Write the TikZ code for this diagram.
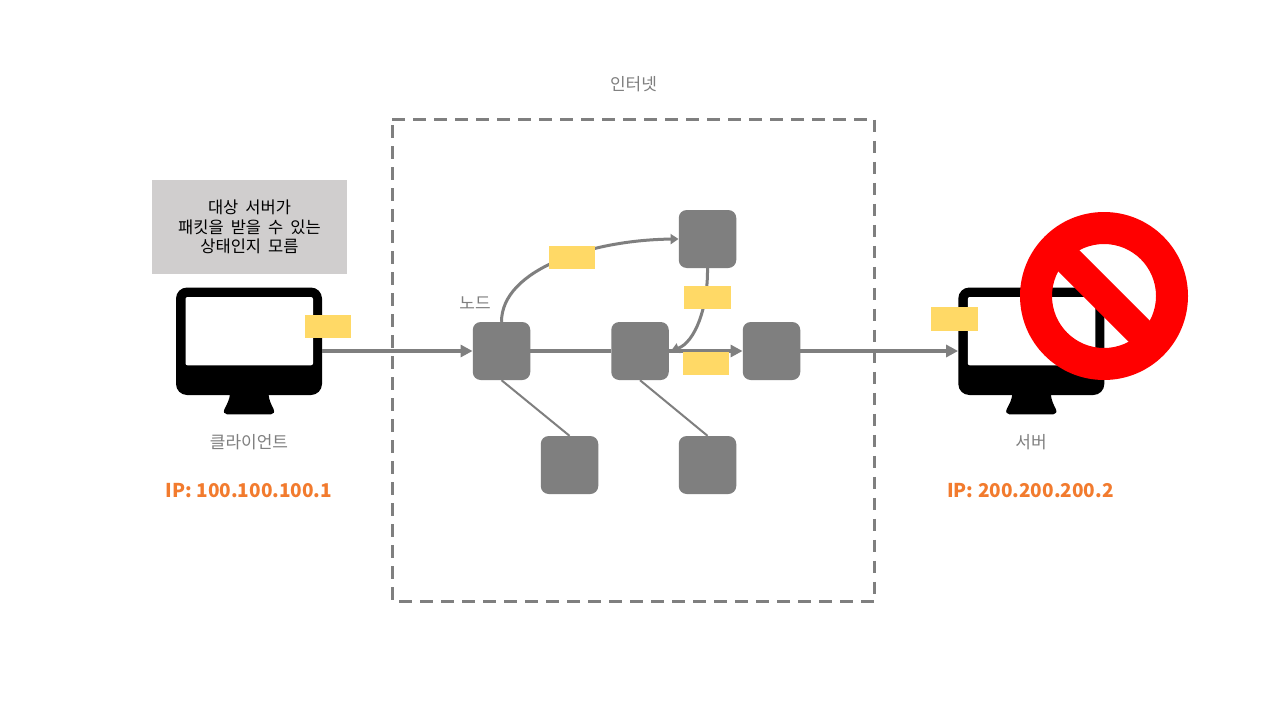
\documentclass[tikz,border=0pt]{standalone}
\usepackage{fontspec}
\setmainfont{Noto Sans CJK KR}
\newfontfamily\notefont[WordSpace=1.9]{Noto Sans CJK KR}
\usetikzlibrary{arrows.meta,calc}
\definecolor{nodegray}{HTML}{7F7F7F}
\definecolor{packet}{HTML}{FFD966}
\definecolor{notebox}{HTML}{D0CECE}
\definecolor{iporange}{HTML}{F27B2E}
\tikzset{
  x=1pt,y=-1pt,
  netnode/.style={fill=nodegray,rounded corners=8pt,minimum width=57.5pt,minimum height=58pt,inner sep=0pt},
  pkt/.style={fill=packet,minimum width=46.5pt,minimum height=23pt,inner sep=0pt},
  lbl/.style={text=nodegray,font=\fontsize{17}{20}\selectfont,inner sep=0pt},
  iplbl/.style={text=iporange,font=\fontsize{19}{23}\selectfont\bfseries,inner sep=0pt},
  link/.style={draw=nodegray,line width=3.7pt},
  curvelink/.style={draw=nodegray,line width=3pt},
  thinlink/.style={draw=nodegray,line width=2pt},
  tip/.style={-{Triangle[length=12pt,width=12pt]}},
  smalltip/.style={-{Triangle[length=8pt,width=10pt]}},
  screenbox/.style={minimum width=146pt,minimum height=107.5pt,inner sep=0pt}
}
\newcommand{\monitorshape}[2]{%
  \begin{scope}[shift={(#1,#2)}]
    \fill[black,rounded corners=11pt] (176,287.5) rectangle (322,395);
    \fill[white,rounded corners=2pt] (185.5,297) rectangle (313,365.3);
    \fill[black] (230,390) -- (268.5,390) -- (268.5,394) .. controls (269,400) and (271,404) .. (273.5,409) .. controls (275,412) and (273.5,414.3) .. (271,414.3) -- (227,414.3) .. controls (224.5,414.3) and (223,412) .. (224.5,409) .. controls (227,404) and (229.5,400) .. (230,394) -- cycle;
  \end{scope}}
\begin{document}
\begin{tikzpicture}
\useasboundingbox (0,0) rectangle (1280,720);
\fill[white] (0,0) rectangle (1280,720);

\node[lbl] (inet) at (633.5,84) {인터넷};
\node[minimum width=482pt,minimum height=482pt,inner sep=0pt] (cloud) at (633.5,360.5) {};
\draw[nodegray,line width=3pt,dash pattern=on 12.5pt off 8.5pt] (cloud.north west) -- (cloud.north east) -- (cloud.south east) -- (cloud.south west) -- cycle;

\node[fill=notebox,minimum width=195pt,minimum height=94pt,inner sep=0pt,align=center,font=\notefont\fontsize{16.5}{19.2}\selectfont] (note) at (249.5,227) {대상 서버가\\패킷을 받을 수 있는\\상태인지 모름};

\monitorshape{0}{0}
\monitorshape{782.3}{0}
\node[screenbox] (client) at (249,341.2) {};
\node[screenbox] (server) at (1031.3,341.2) {};

\node[netnode] (A) at (501.5,351) {};
\node[netnode] (B) at (640,351) {};
\node[netnode] (C) at (771.5,351) {};
\node[netnode] (T) at (707.5,239) {};
\node[netnode] (D) at (569.5,465) {};
\node[netnode] (E) at (707.5,465) {};

\draw[link,tip] (client.east |- A.west) -- (A.west);
\draw[link] (A.east) -- (B.west);
\draw[link,tip] (B.east) -- (C.west);
\draw[link,tip] (C.east) -- (server.west |- C.east);
\draw[curvelink,smalltip] (A.north) .. controls ($(A.north)+(0,-52)$) and (590,240) .. (T.west);
\draw[curvelink,smalltip] (T.south) .. controls (708,308) and (695,342) .. ($(B.east)+(2,0)$);
\draw[thinlink] (A.south) -- (D.north);
\draw[thinlink] (B.south) -- (E.north);

\node[pkt] (p1) at (328,326.5) {};
\node[pkt] (p2) at (572,257.5) {};
\node[pkt] (p3) at (707.5,297.5) {};
\node[pkt] (p4) at (706,363.5) {};
\node[pkt,minimum height=24pt] (p5) at (954.5,319) {};

\node[lbl] (nodelbl) at (475,303) {노드};
\node[lbl] (clientlbl) at (249,442) {클라이언트};
\node[lbl] (serverlbl) at (1031,442) {서버};
\node[iplbl] (ip1) at (249,491) {IP: 100.100.100.1};
\node[iplbl] (ip2) at (1030.5,491) {IP: 200.200.200.2};

\begin{scope}[shift={(1104,296)}]
  \fill[red,even odd rule] (0,0) circle (84) (0,0) circle (52);
  \fill[red,rotate=-45] (-60,-15) rectangle (60,15);
\end{scope}
\end{tikzpicture}
\end{document}
